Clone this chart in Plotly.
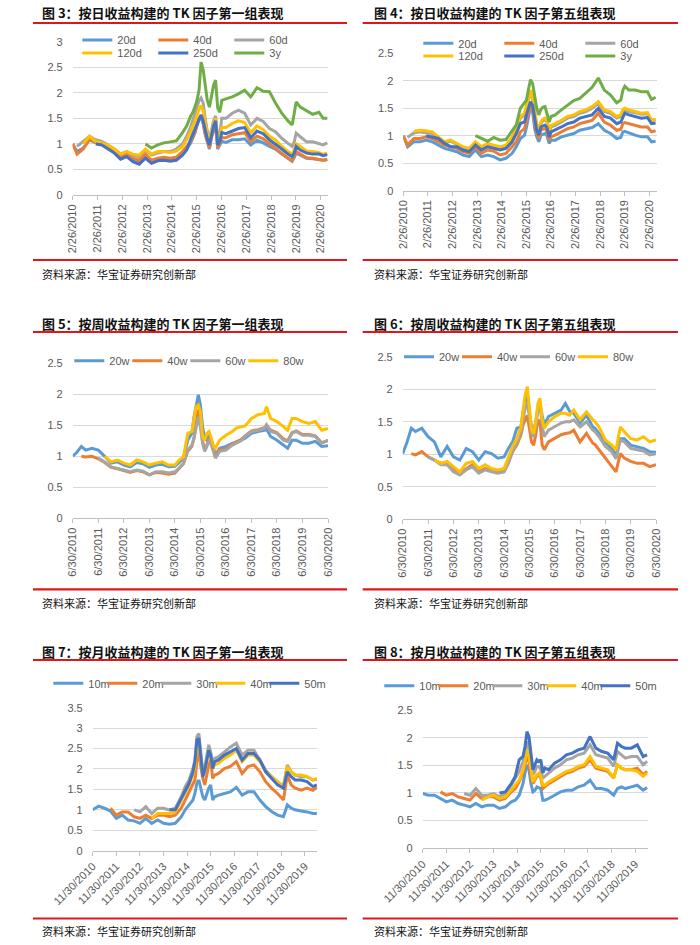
import plotly.graph_objects as go

N = None

# ---------------- daily-return panels (fig 3 / fig 4) ----------------
daily_dates = ["2010-02-26", "2010-05-01", "2010-08-01", "2010-11-01", "2011-02-01", "2011-05-01",
               "2011-08-01", "2011-11-01", "2012-02-01", "2012-05-01", "2012-08-01", "2012-11-01",
               "2013-02-01", "2013-05-01", "2013-08-01", "2013-11-01", "2014-02-01", "2014-05-01",
               "2014-08-01", "2014-10-01", "2014-12-01", "2015-01-01", "2015-02-01", "2015-03-01",
               "2015-04-01", "2015-05-01", "2015-06-01", "2015-07-01", "2015-08-01", "2015-09-01",
               "2015-10-01", "2015-11-01", "2015-12-01", "2016-01-01", "2016-02-01", "2016-03-01",
               "2016-05-01", "2016-08-01", "2016-11-01", "2017-02-01", "2017-05-01", "2017-08-01",
               "2017-11-01", "2018-02-01", "2018-05-01", "2018-08-01", "2018-11-01", "2019-01-01",
               "2019-02-01", "2019-03-01", "2019-05-01", "2019-08-01", "2019-11-01", "2020-02-01",
               "2020-04-01", "2020-06-01"]
daily_tickvals = ["%d-02-26" % y for y in range(2010, 2021)]
daily_ticktext = ["2/26/%d" % y for y in range(2010, 2021)]

f3_20d = [1.0, 0.85, 0.92, 1.08, 1.02, 1.0, 0.92, 0.85, 0.72, 0.78, 0.7, 0.65, 0.78, 0.65, 0.7, 0.72, 0.7, 0.72, 0.82, 0.9,
          1.02, 1.12, 1.22, 1.35, 1.47, 1.52, 1.4, 1.18, 1.03, 0.9, 1.12, 1.28, 1.38, 0.9, 0.98, 1.05, 1.03, 1.08, 1.08, 1.1,
          0.98, 1.07, 1.02, 0.95, 0.9, 0.8, 0.72, 0.66, 0.73, 0.82, 0.78, 0.72, 0.71, 0.7, 0.68, 0.69]
f3_40d = [1.0, 0.8, 0.9, 1.1, 1.03, 1.0, 0.93, 0.86, 0.75, 0.8, 0.72, 0.68, 0.8, 0.68, 0.72, 0.74, 0.72, 0.74, 0.85, 0.95,
          1.05, 1.15, 1.25, 1.38, 1.5, 1.55, 1.42, 1.2, 1.05, 0.92, 1.15, 1.3, 1.4, 0.92, 1.02, 1.12, 1.12, 1.18, 1.2, 1.22,
          1.05, 1.15, 1.1, 1.0, 0.92, 0.82, 0.72, 0.68, 0.75, 0.85, 0.8, 0.73, 0.72, 0.7, 0.68, 0.7]
f3_60d = [N, 0.95, 1.05, 1.15, 1.08, 1.05, 0.98, 0.9, 0.8, 0.85, 0.78, 0.75, 0.88, 0.78, 0.82, 0.85, 0.85, 0.9, 1.0, 1.15,
          1.34, 1.45, 1.6, 1.72, 1.85, 1.9, 1.8, 1.5, 1.25, 1.1, 1.3, 1.45, 1.55, 1.1, 1.2, 1.5, 1.5, 1.6, 1.66, 1.6,
          1.37, 1.5, 1.44, 1.3, 1.24, 1.11, 1.01, 0.95, 1.04, 1.21, 1.14, 1.04, 1.04, 1.01, 0.98, 1.02]
f3_120d = [N, N, 1.0, 1.15, 1.05, 1.02, 0.97, 0.9, 0.8, 0.85, 0.8, 0.78, 0.9, 0.8, 0.85, 0.85, 0.83, 0.86, 0.95, 1.08,
           1.25, 1.35, 1.45, 1.55, 1.68, 1.75, 1.65, 1.4, 1.2, 1.05, 1.25, 1.4, 1.5, 1.0, 1.1, 1.32, 1.32, 1.4, 1.45, 1.42,
           1.22, 1.35, 1.28, 1.15, 1.08, 0.95, 0.85, 0.8, 0.88, 1.0, 0.95, 0.86, 0.85, 0.83, 0.8, 0.82]
f3_250d = [N, N, N, N, 1.0, 0.98, 0.9, 0.82, 0.7, 0.75, 0.65, 0.6, 0.72, 0.62, 0.67, 0.68, 0.66, 0.68, 0.78, 0.88,
           1.1, 1.2, 1.3, 1.4, 1.5, 1.57, 1.45, 1.25, 1.1, 0.98, 1.2, 1.35, 1.45, 0.98, 1.05, 1.22, 1.2, 1.25, 1.3, 1.32,
           1.12, 1.25, 1.2, 1.08, 1.0, 0.9, 0.8, 0.75, 0.82, 0.95, 0.88, 0.82, 0.8, 0.8, 0.77, 0.79]
f3_3y = [N, N, N, N, N, N, N, N, N, N, N, N, 1.0, 0.92, 0.98, 1.02, 1.04, 1.06, 1.22, 1.35,
         1.55, 1.62, 1.73, 1.85, 2.05, 2.6, 2.45, 2.1, 1.85, 1.72, 1.95, 2.15, 2.25, 1.7, 1.62, 1.85, 1.88, 1.92, 1.98, 2.05,
         1.92, 2.1, 2.03, 2.02, 1.8, 1.6, 1.45, 1.37, 1.6, 1.82, 1.72, 1.65, 1.58, 1.62, 1.5, 1.5]

f4_20d = [1.0, 0.8, 0.89, 0.89, 0.92, 0.89, 0.83, 0.77, 0.74, 0.71, 0.65, 0.62, 0.74, 0.62, 0.65, 0.62, 0.56, 0.59, 0.68, 0.8,
          0.95, 0.98, 1.01, 1.15, 1.35, 1.53, 1.44, 1.13, 0.98, 0.89, 1.01, 1.03, 1.04, 1.0, 0.86, 0.92, 0.92, 0.98, 1.01, 1.04,
          1.1, 1.13, 1.15, 1.22, 1.1, 1.04, 0.95, 0.97, 1.07, 1.08, 1.05, 1.01, 0.98, 0.98, 0.89, 0.9]
f4_40d = [1.0, 0.83, 0.95, 0.95, 0.98, 0.95, 0.89, 0.83, 0.8, 0.77, 0.71, 0.68, 0.8, 0.68, 0.74, 0.72, 0.65, 0.68, 0.8, 0.89,
          1.07, 1.1, 1.13, 1.28, 1.44, 1.56, 1.47, 1.22, 1.04, 0.95, 1.1, 1.12, 1.13, 1.08, 0.92, 0.98, 1.01, 1.07, 1.13, 1.16,
          1.22, 1.25, 1.28, 1.41, 1.25, 1.19, 1.1, 1.12, 1.22, 1.24, 1.22, 1.19, 1.16, 1.16, 1.07, 1.09]
f4_60d = [N, 0.97, 1.05, 1.07, 1.06, 1.04, 0.96, 0.87, 0.9, 0.84, 0.78, 0.75, 0.87, 0.78, 0.84, 0.81, 0.78, 0.81, 0.95, 1.13,
          1.32, 1.35, 1.38, 1.52, 1.68, 1.8, 1.65, 1.41, 1.19, 1.1, 1.22, 1.27, 1.29, 1.25, 1.07, 1.16, 1.19, 1.25, 1.32, 1.35,
          1.41, 1.44, 1.5, 1.59, 1.44, 1.41, 1.32, 1.35, 1.45, 1.47, 1.44, 1.42, 1.39, 1.4, 1.28, 1.29]
f4_120d = [N, N, 1.08, 1.1, 1.09, 1.07, 0.98, 0.89, 0.92, 0.86, 0.8, 0.77, 0.89, 0.8, 0.86, 0.83, 0.8, 0.83, 0.98, 1.16,
           1.35, 1.38, 1.41, 1.55, 1.71, 1.83, 1.68, 1.44, 1.22, 1.13, 1.25, 1.3, 1.32, 1.28, 1.1, 1.19, 1.22, 1.28, 1.35, 1.38,
           1.44, 1.47, 1.53, 1.62, 1.47, 1.44, 1.35, 1.38, 1.48, 1.5, 1.47, 1.44, 1.41, 1.42, 1.28, 1.3]
f4_250d = [N, N, N, N, 1.0, 0.98, 0.95, 0.86, 0.8, 0.8, 0.74, 0.71, 0.83, 0.74, 0.8, 0.77, 0.74, 0.77, 0.89, 1.04,
           1.22, 1.24, 1.25, 1.38, 1.53, 1.62, 1.55, 1.28, 1.1, 1.01, 1.16, 1.18, 1.19, 1.15, 0.98, 1.07, 1.1, 1.16, 1.22, 1.25,
           1.32, 1.35, 1.38, 1.5, 1.35, 1.32, 1.22, 1.25, 1.35, 1.41, 1.38, 1.35, 1.32, 1.33, 1.22, 1.23]
f4_3y = [N, N, N, N, N, N, N, N, N, N, N, N, 1.0, 0.95, 0.9, 0.97, 0.92, 0.93, 1.08, 1.2,
         1.5, 1.56, 1.6, 1.65, 1.85, 2.02, 1.95, 1.75, 1.5, 1.38, 1.48, 1.52, 1.53, 1.4, 1.25, 1.35, 1.38, 1.47, 1.55, 1.64,
         1.68, 1.78, 1.88, 2.05, 1.83, 1.74, 1.6, 1.65, 1.83, 1.9, 1.83, 1.83, 1.8, 1.8, 1.66, 1.7]

# ---------------- weekly-return panels (fig 5 / fig 6) ----------------
weekly_dates = ["2010-06-30", "2010-09-01", "2010-11-01", "2011-01-01", "2011-04-01", "2011-07-01", "2011-10-01",
                "2012-01-01", "2012-04-01", "2012-07-01", "2012-10-01", "2013-01-01", "2013-04-01", "2013-07-01",
                "2013-10-01", "2014-01-01", "2014-04-01", "2014-07-01", "2014-09-01", "2014-11-01", "2015-01-01",
                "2015-03-01", "2015-04-01", "2015-05-01", "2015-06-01", "2015-07-01", "2015-08-01", "2015-09-01",
                "2015-10-01", "2015-11-01", "2015-12-01", "2016-01-01", "2016-02-01", "2016-04-01", "2016-07-01",
                "2016-10-01", "2016-12-01", "2017-02-01", "2017-04-01", "2017-07-01", "2017-10-01", "2018-01-01",
                "2018-02-01", "2018-04-01", "2018-07-01", "2018-10-01", "2018-12-01", "2019-02-01", "2019-04-01",
                "2019-07-01", "2019-10-01", "2020-01-01", "2020-04-01", "2020-06-30"]
weekly_tickvals = ["%d-06-30" % y for y in range(2010, 2021)]
weekly_ticktext = ["6/30/%d" % y for y in range(2010, 2021)]

f5_20w = [1.0, 1.07, 1.16, 1.1, 1.13, 1.1, 1.0, 0.89, 0.91, 0.86, 0.83, 0.9, 0.88, 0.82, 0.86, 0.87, 0.83, 0.84, 0.9, 0.97,
          1.26, 1.37, 1.64, 1.83, 1.99, 1.83, 1.48, 1.29, 1.26, 1.34, 1.28, 1.16, 1.02, 1.13, 1.16, 1.21, 1.23, 1.26, 1.29, 1.37,
          1.4, 1.42, 1.44, 1.32, 1.26, 1.18, 1.13, 1.26, 1.26, 1.21, 1.21, 1.24, 1.16, 1.17]
f5_40w = [N, N, 1.0, 0.99, 1.0, 0.96, 0.9, 0.82, 0.8, 0.77, 0.74, 0.77, 0.75, 0.7, 0.74, 0.73, 0.71, 0.73, 0.8, 0.88,
          1.08, 1.16, 1.3, 1.5, 1.75, 1.55, 1.25, 1.1, 1.18, 1.26, 1.22, 1.12, 0.99, 1.1, 1.12, 1.2, 1.24, 1.27, 1.33, 1.41,
          1.43, 1.46, 1.5, 1.42, 1.38, 1.28, 1.25, 1.38, 1.41, 1.35, 1.35, 1.33, 1.22, 1.25]
f5_60w = [N, N, N, N, N, 0.97, 0.91, 0.83, 0.81, 0.78, 0.75, 0.78, 0.76, 0.7, 0.75, 0.75, 0.73, 0.75, 0.81, 0.89,
          1.1, 1.18, 1.29, 1.45, 1.64, 1.48, 1.21, 1.08, 1.16, 1.24, 1.2, 1.1, 0.97, 1.08, 1.1, 1.18, 1.22, 1.25, 1.32, 1.4,
          1.42, 1.45, 1.51, 1.4, 1.37, 1.26, 1.24, 1.37, 1.4, 1.34, 1.34, 1.32, 1.21, 1.26]
f5_80w = [N, N, N, N, N, N, 1.0, 0.91, 0.94, 0.89, 0.86, 0.94, 0.91, 0.86, 0.89, 0.91, 0.86, 0.86, 0.94, 0.99,
          1.37, 1.4, 1.61, 1.8, 1.83, 1.72, 1.32, 1.26, 1.37, 1.4, 1.3, 1.18, 1.13, 1.26, 1.34, 1.4, 1.46, 1.48, 1.49, 1.61,
          1.67, 1.69, 1.8, 1.61, 1.56, 1.48, 1.42, 1.61, 1.61, 1.56, 1.53, 1.56, 1.42, 1.45]

f6_20w = [1.01, 1.19, 1.4, 1.35, 1.4, 1.27, 1.19, 0.96, 1.12, 0.96, 0.91, 1.09, 1.04, 0.91, 1.04, 1.01, 0.94, 0.96, 1.09, 1.19,
          1.4, 1.42, 1.65, 1.81, 1.94, 1.65, 1.42, 1.37, 1.5, 1.71, 1.78, 1.6, 1.45, 1.58, 1.63, 1.68, 1.78, 1.66, 1.63, 1.48,
          1.6, 1.42, 1.4, 1.32, 1.19, 1.09, 0.98, 1.24, 1.24, 1.14, 1.12, 1.09, 1.04, 1.03]
f6_40w = [N, N, 1.01, 0.99, 1.04, 0.96, 0.91, 0.86, 0.86, 0.76, 0.71, 0.78, 0.84, 0.73, 0.78, 0.76, 0.73, 0.76, 0.89, 1.04,
          1.14, 1.3, 1.45, 1.53, 1.6, 1.4, 1.19, 1.14, 1.3, 1.53, 1.5, 1.14, 1.07, 1.19, 1.24, 1.3, 1.32, 1.33, 1.37, 1.19,
          1.32, 1.17, 1.15, 1.07, 0.94, 0.81, 0.73, 1.01, 0.94, 0.89, 0.86, 0.86, 0.81, 0.84]
f6_60w = [N, N, N, N, N, 0.96, 0.91, 0.84, 0.84, 0.73, 0.68, 0.76, 0.81, 0.71, 0.76, 0.73, 0.71, 0.73, 0.86, 1.04,
          1.17, 1.35, 1.53, 1.71, 1.81, 1.55, 1.32, 1.27, 1.42, 1.68, 1.76, 1.45, 1.27, 1.37, 1.42, 1.48, 1.5, 1.5, 1.53, 1.42,
          1.5, 1.37, 1.35, 1.27, 1.12, 1.04, 0.93, 1.22, 1.19, 1.09, 1.07, 1.05, 0.99, 1.01]
f6_80w = [N, N, N, N, N, N, 0.91, 0.86, 0.89, 0.81, 0.73, 0.86, 0.89, 0.78, 0.84, 0.78, 0.76, 0.78, 0.94, 1.12,
          1.24, 1.42, 1.68, 1.91, 2.04, 1.73, 1.37, 1.32, 1.5, 1.78, 1.86, 1.55, 1.4, 1.5, 1.58, 1.63, 1.63, 1.6, 1.68, 1.53,
          1.65, 1.53, 1.5, 1.42, 1.22, 1.14, 1.07, 1.42, 1.35, 1.24, 1.22, 1.27, 1.19, 1.22]

# ---------------- monthly-return panels (fig 7 / fig 8) ----------------
monthly_dates = ["2010-11-30", "2011-03-01", "2011-06-01", "2011-09-01", "2011-12-01", "2012-03-01", "2012-06-01",
                 "2012-09-01", "2012-12-01", "2013-03-01", "2013-06-01", "2013-09-01", "2013-12-01", "2014-03-01",
                 "2014-06-01", "2014-09-01", "2014-11-01", "2015-01-01", "2015-03-01", "2015-04-01", "2015-05-01",
                 "2015-06-01", "2015-07-01", "2015-08-01", "2015-09-01", "2015-10-01", "2015-11-01", "2015-12-01",
                 "2016-01-01", "2016-02-01", "2016-04-01", "2016-07-01", "2016-10-01", "2017-01-01", "2017-04-01",
                 "2017-07-01", "2017-10-01", "2018-01-01", "2018-04-01", "2018-07-01", "2018-10-01", "2019-01-01",
                 "2019-03-01", "2019-05-01", "2019-07-01", "2019-10-01", "2020-01-01", "2020-04-01", "2020-06-01"]
monthly_tickvals = ["%d-11-30" % y for y in range(2010, 2020)]
monthly_ticktext = ["11/30/%d" % y for y in range(2010, 2020)]

f7_10m = [1.0, 1.09, 1.04, 0.97, 0.79, 0.87, 0.75, 0.73, 0.67, 0.79, 0.67, 0.75, 0.67, 0.65, 0.67, 0.83, 1.0, 1.12, 1.24, 1.4,
          1.65, 1.73, 1.53, 1.32, 1.24, 1.4, 1.53, 1.61, 1.24, 1.32, 1.36, 1.4, 1.44, 1.55, 1.36, 1.44, 1.44, 1.24, 1.08, 0.96,
          0.87, 0.83, 1.12, 1.04, 1.0, 0.97, 0.95, 0.91, 0.91]
f7_20m = [N, N, N, 1.04, 0.87, 0.95, 0.95, 0.83, 0.79, 0.87, 0.79, 0.87, 0.87, 0.83, 0.87, 1.04, 1.24, 1.4, 1.61, 1.73,
          2.18, 2.46, 2.06, 1.77, 1.61, 1.89, 2.1, 2.22, 1.77, 1.85, 1.89, 2.01, 2.06, 2.18, 1.89, 2.06, 2.1, 1.93, 1.69, 1.53,
          1.4, 1.24, 1.85, 1.61, 1.53, 1.48, 1.53, 1.48, 1.55]
f7_30m = [N, N, N, N, N, N, N, 1.0, 0.95, 1.08, 0.91, 1.04, 1.04, 1.0, 1.04, 1.32, 1.57, 1.73, 2.01, 2.22,
          2.79, 2.87, 2.38, 1.93, 2.06, 2.38, 2.59, 2.42, 2.14, 2.26, 2.3, 2.42, 2.54, 2.63, 2.34, 2.46, 2.46, 2.22, 1.97, 1.81,
          1.69, 1.57, 2.1, 1.93, 1.85, 1.81, 1.81, 1.73, 1.75]
f7_40m = [N, N, N, N, N, N, N, N, N, N, 0.79, 0.91, 0.91, 0.91, 0.95, 1.24, 1.44, 1.61, 1.85, 2.06,
          2.54, 2.63, 2.22, 1.85, 1.93, 2.22, 2.42, 2.3, 2.01, 2.1, 2.14, 2.26, 2.34, 2.46, 2.18, 2.34, 2.34, 2.18, 1.93, 1.81,
          1.69, 1.57, 2.06, 1.93, 1.85, 1.85, 1.81, 1.73, 1.77]
f7_50m = [N, N, N, N, N, N, N, N, N, N, N, N, N, 1.0, 1.0, 1.28, 1.48, 1.65, 1.93, 2.18,
          2.71, 2.75, 2.3, 1.81, 1.97, 2.26, 2.46, 2.34, 2.01, 2.18, 2.22, 2.34, 2.42, 2.5, 2.22, 2.38, 2.38, 2.22, 1.93, 1.77,
          1.61, 1.53, 1.93, 1.81, 1.73, 1.73, 1.69, 1.57, 1.61]

f8_10m = [0.99, 0.96, 0.96, 0.9, 0.84, 0.87, 0.81, 0.78, 0.75, 0.81, 0.75, 0.78, 0.78, 0.72, 0.75, 0.84, 0.87, 0.96, 1.17, 1.36,
          1.51, 1.42, 1.17, 1.02, 1.05, 1.11, 1.1, 1.08, 0.87, 0.87, 0.9, 0.96, 1.02, 1.05, 1.05, 1.11, 1.14, 1.23, 1.08, 1.08,
          1.05, 0.96, 1.08, 1.11, 1.08, 1.11, 1.14, 1.05, 1.1]
f8_20m = [N, N, N, 1.02, 0.96, 0.99, 0.93, 0.9, 0.87, 0.99, 0.9, 0.93, 0.93, 0.87, 0.9, 1.02, 1.08, 1.2, 1.36, 1.51,
          1.66, 1.57, 1.3, 1.17, 1.23, 1.3, 1.33, 1.27, 1.08, 1.11, 1.17, 1.23, 1.3, 1.36, 1.39, 1.45, 1.48, 1.6, 1.45, 1.42,
          1.39, 1.27, 1.51, 1.45, 1.42, 1.42, 1.45, 1.33, 1.39]
f8_30m = [N, N, N, N, N, N, N, 0.99, 0.96, 1.08, 0.96, 0.96, 0.99, 0.93, 0.99, 1.14, 1.27, 1.39, 1.57, 1.72,
          1.93, 1.81, 1.51, 1.33, 1.39, 1.48, 1.48, 1.42, 1.27, 1.3, 1.36, 1.45, 1.51, 1.6, 1.63, 1.69, 1.72, 1.87, 1.69, 1.66,
          1.63, 1.48, 1.75, 1.69, 1.63, 1.66, 1.66, 1.51, 1.57]
f8_40m = [N, N, N, N, N, N, N, N, N, N, 0.87, 0.93, 0.96, 0.9, 0.93, 1.05, 1.14, 1.23, 1.42, 1.57,
          1.78, 1.66, 1.39, 1.2, 1.27, 1.33, 1.36, 1.3, 1.14, 1.14, 1.2, 1.27, 1.33, 1.39, 1.42, 1.48, 1.51, 1.66, 1.48, 1.45,
          1.42, 1.27, 1.51, 1.45, 1.42, 1.42, 1.39, 1.3, 1.36]
f8_50m = [N, N, N, N, N, N, N, N, N, N, N, N, N, 1.0, 1.02, 1.17, 1.3, 1.6, 1.66, 1.84,
          2.11, 2.02, 1.69, 1.42, 1.51, 1.6, 1.57, 1.6, 1.36, 1.45, 1.42, 1.54, 1.6, 1.69, 1.72, 1.78, 1.81, 2.02, 1.81, 1.75,
          1.72, 1.6, 1.9, 1.84, 1.81, 1.81, 1.87, 1.66, 1.69]

titles = ["图 3：按日收益构建的 TK 因子第一组表现", "图 4：按日收益构建的 TK 因子第五组表现",
          "图 5：按周收益构建的 TK 因子第一组表现", "图 6：按周收益构建的 TK 因子第五组表现",
          "图 7：按月收益构建的 TK 因子第一组表现", "图 8：按月收益构建的 TK 因子第五组表现"]
source_text = "资料来源：华宝证券研究创新部"

# ---------------- styling ----------------
W, H = 700, 945
OFF = 0.0   # page body margin is removed by the post script, so page pixels == figure pixels
BLUE, ORANGE, GRAY, YELLOW, DBLUE, GREEN = "#5B9BD5", "#ED7D31", "#A5A5A5", "#FFC000", "#4472C4", "#70AD47"
GRID = "#D9D9D9"
AXIS = "#BFBFBF"
TXT = "#595959"
RED = "#E0161B"
FONT = "Liberation Sans, Arial, sans-serif"
CJK = "Noto Sans CJK SC"
LW = 3.0


def px(v):
    return (v - OFF) / W


def py(v):
    return 1 - (v - OFF) / H


panels = [
    dict(box=(72.7, 328.0, 41.7, 195.0), ymax=3.0, dates=daily_dates, xr=["2010-02-26", "2020-06-12"],
         tv=daily_tickvals, tt=daily_ticktext, angle=-90,
         series=[(f3_20d, "20d", BLUE, "legend"), (f3_40d, "40d", ORANGE, "legend"), (f3_60d, "60d", GRAY, "legend"),
                 (f3_120d, "120d", YELLOW, "legend2"), (f3_250d, "250d", DBLUE, "legend2"), (f3_3y, "3y", GREEN, "legend2")]),
    dict(box=(403.3, 656.7, 53.3, 190.7), ymax=2.5, dates=daily_dates, xr=["2010-02-26", "2020-06-17"],
         tv=daily_tickvals, tt=daily_ticktext, angle=-90,
         series=[(f4_20d, "20d", BLUE, "legend3"), (f4_40d, "40d", ORANGE, "legend3"), (f4_60d, "60d", GRAY, "legend3"),
                 (f4_120d, "120d", YELLOW, "legend4"), (f4_250d, "250d", DBLUE, "legend4"), (f4_3y, "3y", GREEN, "legend4")]),
    dict(box=(72.7, 328.0, 363.3, 518.3), ymax=2.5, dates=weekly_dates, xr=["2010-06-30", "2020-06-30"],
         tv=weekly_tickvals, tt=weekly_ticktext, angle=-90,
         series=[(f5_20w, "20w", BLUE, "legend5"), (f5_40w, "40w", ORANGE, "legend5"),
                 (f5_60w, "60w", GRAY, "legend5"), (f5_80w, "80w", YELLOW, "legend5")]),
    dict(box=(402.7, 656.0, 356.7, 519.3), ymax=2.5, dates=weekly_dates, xr=["2010-06-30", "2020-06-30"],
         tv=weekly_tickvals, tt=weekly_ticktext, angle=-90,
         series=[(f6_20w, "20w", BLUE, "legend6"), (f6_40w, "40w", ORANGE, "legend6"),
                 (f6_60w, "60w", GRAY, "legend6"), (f6_80w, "80w", YELLOW, "legend6")]),
    dict(box=(92.7, 317.3, 707.7, 850.7), ymax=3.5, dates=monthly_dates, xr=["2010-11-30", "2020-06-08"],
         tv=monthly_tickvals, tt=monthly_ticktext, angle=-45,
         series=[(f7_10m, "10m", BLUE, "legend7"), (f7_20m, "20m", ORANGE, "legend7"), (f7_30m, "30m", GRAY, "legend7"),
                 (f7_40m, "40m", YELLOW, "legend7"), (f7_50m, "50m", DBLUE, "legend7")]),
    dict(box=(422.7, 648.3, 710.0, 848.3), ymax=2.5, dates=monthly_dates, xr=["2010-11-30", "2020-06-20"],
         tv=monthly_tickvals, tt=monthly_ticktext, angle=-45,
         series=[(f8_10m, "10m", BLUE, "legend8"), (f8_20m, "20m", ORANGE, "legend8"), (f8_30m, "30m", GRAY, "legend8"),
                 (f8_40m, "40m", YELLOW, "legend8"), (f8_50m, "50m", DBLUE, "legend8")]),
]

# legend: left x (px), centre y (px), entry width (px)
legend_pos = {
    "legend": (77.3, 40.0, 31), "legend2": (77.3, 53.0, 31),
    "legend3": (418.3, 43.3, 36), "legend4": (418.3, 56.0, 36),
    "legend5": (69.3, 360.7, 13), "legend6": (399.0, 356.7, 13),
    "legend7": (48.3, 683.3, 9), "legend8": (379.3, 685.7, 9),
}

fig = go.Figure()
layout = {}
for i, p in enumerate(panels, start=1):
    xa = "x" if i == 1 else "x%d" % i
    ya = "y" if i == 1 else "y%d" % i
    x0, x1, y0, y1 = p["box"]
    ser = p["series"]
    for j, (vals, name, color, leg) in enumerate(ser):
        last = (j == len(ser) - 1) or (ser[j + 1][3] != leg)
        fig.add_trace(go.Scatter(
            x=p["dates"], y=vals, name=name, mode="lines",
            line=dict(color=color, width=LW), xaxis=xa, yaxis=ya,
            legend=leg, legendwidth=(45 if last else legend_pos[leg][2]),
            connectgaps=False, hoverinfo="skip"))
    layout["xaxis" if i == 1 else "xaxis%d" % i] = dict(
        domain=[px(x0), px(x1)], anchor=ya, type="date", range=p["xr"],
        tickmode="array", tickvals=p["tv"], ticktext=p["tt"], tickangle=p["angle"],
        showgrid=False, zeroline=False, showline=True, linecolor=AXIS, linewidth=1,
        ticks="outside", ticklen=4, tickcolor=AXIS, tickwidth=1,
        tickfont=dict(family=FONT, size=11, color=TXT), automargin=False, fixedrange=True)
    layout["yaxis" if i == 1 else "yaxis%d" % i] = dict(
        domain=[py(y1), py(y0)], anchor=xa, range=[0, p["ymax"]], tick0=0, dtick=0.5,
        showgrid=True, gridcolor=GRID, gridwidth=1, zeroline=False, showline=False, ticks="",
        ticklabelstandoff=9, tickfont=dict(family=FONT, size=11, color=TXT), automargin=False, fixedrange=True)

for name, (lx, ly, ew) in legend_pos.items():
    layout[name] = dict(orientation="h", x=px(lx), y=py(ly), xanchor="left", yanchor="middle",
                        bgcolor="rgba(0,0,0,0)", borderwidth=0, itemwidth=30, traceorder="normal",
                        font=dict(family=FONT, size=11, color=TXT), entrywidth=ew)

annotations = []
shapes = []
cols = [(40.0, 33.0, 347.0), (371.7, 362.7, 678.0)]
rows = [(13.0, 23.0, 260.0, 274.0), (323.0, 332.0, 589.3, 602.7), (651.0, 660.0, 918.5, 930.5)]
k = 0
for (ty, ly_top, ly_bot, sy) in rows:
    for (tx, lx0, lx1) in cols:
        annotations.append(dict(text="<b>%s</b>" % titles[k], x=px(tx), y=py(ty), xref="paper", yref="paper",
                                xanchor="left", yanchor="middle", showarrow=False,
                                font=dict(family=CJK, size=13, color="#111111")))
        annotations.append(dict(text=source_text, x=px(tx), y=py(sy), xref="paper", yref="paper",
                                xanchor="left", yanchor="middle", showarrow=False,
                                font=dict(family=CJK, size=11, color="#111111")))
        for yy in (ly_top, ly_bot):
            shapes.append(dict(type="line", xref="paper", yref="paper", x0=px(lx0), x1=px(lx1),
                               y0=py(yy), y1=py(yy), line=dict(color=RED, width=2.2)))
        k += 1

fig.update_layout(width=W, height=H, margin=dict(l=0, r=0, t=0, b=0), template="none",
                  paper_bgcolor="white", plot_bgcolor="white", showlegend=True, hovermode=False,
                  annotations=annotations, shapes=shapes, **layout)

fig.write_html("out.html", config={"displayModeBar": False, "staticPlot": True},
               post_script="document.body.style.margin='0px';document.body.style.padding='0px';")
